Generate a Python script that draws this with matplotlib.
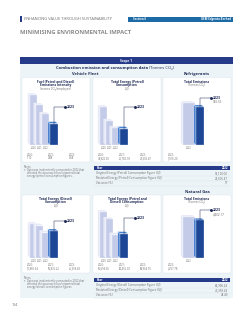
import matplotlib
matplotlib.use("Agg")
import matplotlib.pyplot as plt
from matplotlib.patches import Rectangle, Polygon, FancyBboxPatch
import numpy as np

plt.rcParams['font.family'] = ['Open Sans', 'DejaVu Sans']

W, H = 251, 320

# ---- data ----
FLEET_YEARS = ["2020", "2021", "2022", "2023"]
EMISSION_INTENSITY = [1.10, 0.88, 0.68, 0.47]
PETROL_GJ = [34820.60, 26780.78, 22606.47, 22436.99]
DIESEL_GJ = [51886.64, 50836.22, 46358.48, 47407.06]
PETROL_DIESEL_GJ = [85694.65, 80456.00, 68964.95, 69844.05]
REFRIG_YEARS = ["2022", "2023"]
REFRIG_CO2 = [1016.20, 920.55]
GAS_YEARS = ["2022", "2023"]
GAS_CO2 = [4767.78, 4402.17]

PETROL_ROWS = ["Original Energy (Petrol) Consumption Figure (GJ)",
               "Restated Energy (Petrol) Consumption Figure (GJ)",
               "Variance (%)"]
PETROL_VALS = ["52,120.00", "22,606.47", "57"]
DIESEL_ROWS = ["Original Energy (Diesel) Consumption Figure (GJ)",
               "Restated Energy (Diesel) Consumption Figure (GJ)",
               "Variance (%)"]
DIESEL_VALS = ["64,996.24", "46,358.48", "28.40"]

NAVY = "#263a8a"
TXT = "#1f2a55"
GREY = "#6d6d6d"
LIGHT = "#c4cbe9"
LIGHT_SIDE = "#e6e9f7"
DARK = "#1d4796"
DARK_SIDE = "#4a82d0"
PANEL = "#edf4f7"

fig = plt.figure(figsize=(W / 100, H / 100), dpi=100)
page = fig.add_axes([0, 0, 1, 1])
page.set_xlim(0, W)
page.set_ylim(H, 0)
page.axis('off')


def px_ax(x0, y0, x1, y1):
    return fig.add_axes([x0 / W, 1 - y1 / H, (x1 - x0) / W, (y1 - y0) / H])


def fmt(v):
    return f"{v:,.2f}"


def bar_chart(box, years, values, ylim, label_frac, light_w=7, dark_w=8, step=6, x0=4):
    ax = px_ax(*box)
    ax.patch.set_alpha(0)
    n = len(values)
    lefts = [x0 + i * step for i in range(n - 1)]
    widths = [light_w] * (n - 1)
    lefts.append(lefts[-1] + light_w + 1)
    widths.append(dark_w)
    base = ylim[0]
    box_h = box[3] - box[1]
    per_px = (ylim[1] - ylim[0]) / box_h
    dx, dyd = 2.2, 2.0 * per_px
    colors = [LIGHT] * (n - 1) + [DARK]
    sides = [LIGHT_SIDE] * (n - 1) + [DARK_SIDE]
    bars = ax.bar(lefts, np.array(values) - base, width=widths, bottom=base, align='edge',
                  color=colors, edgecolor='white', linewidth=0.2)
    for i, p in enumerate(bars):
        l, w, v = lefts[i], widths[i], values[i]
        p.set_zorder(3 * i + 3)
        side = Polygon([(l - dx, base + dyd), (l, base), (l, v), (l - dx, v + dyd)],
                       closed=True, fc=sides[i], ec='white', lw=0.2, zorder=3 * i + 2)
        top = Polygon([(l - dx, v + dyd), (l, v), (l + w, v), (l + w - dx, v + dyd)],
                      closed=True, fc=sides[i], ec='white', lw=0.2, zorder=3 * i + 2)
        ax.add_patch(side)
        ax.add_patch(top)
    xc = lefts[-1] + dark_w / 2
    ly = base + label_frac * (ylim[1] - base)
    ax.plot([xc, xc, xc + 11], [values[-1], ly, ly], color=TXT, lw=0.35,
            clip_on=False, zorder=30)
    ax.plot([xc + 11], [ly], 'o', color=TXT, ms=1.1, clip_on=False, zorder=31)
    ax.text(xc + 13, ly, years[-1], fontsize=2.5, fontweight='bold', color=TXT,
            va='center', ha='left', clip_on=False)
    ax.annotate(fmt(values[-1]), (xc + 13, ly), xytext=(0, -2.9), textcoords='offset points',
                fontsize=2.2, color=GREY, va='center', ha='left')
    centers = [lefts[i] + widths[i] / 2 for i in range(n - 1)]
    ax.set_xticks(centers)
    ax.set_xticklabels(years[:-1], fontsize=1.8, color=GREY)
    ax.tick_params(axis='x', length=0, pad=0.8)
    ax.set_yticks([])
    ax.set_xlim(0, box[2] - box[0])
    ax.set_ylim(*ylim)
    for s in ax.spines.values():
        s.set_visible(False)
    return ax


def card(x0, y0, x1, y1):
    page.add_patch(FancyBboxPatch((x0, y0), x1 - x0, y1 - y0,
                                  boxstyle="round,pad=0,rounding_size=1.2",
                                  fc='white', ec='#d9e4ea', lw=0.3, zorder=1))


def card_title(xc, y, lines, unit):
    for k, t in enumerate(lines):
        page.text(xc, y + k * 3.3, t, fontsize=2.3, fontweight='bold', color=TXT,
                  ha='center', va='center')
    page.text(xc, y + len(lines) * 3.3, unit, fontsize=2.1, color=GREY,
              ha='center', va='center')


def value_list(x0, y, years, values, offsets=(5, 26, 47)):
    for k in range(len(years)):
        page.text(x0 + offsets[k], y, years[k] + ":", fontsize=1.9, color=GREY,
                  ha='left', va='center')
        page.text(x0 + offsets[k], y + 3.2, fmt(values[k]), fontsize=1.9, color=GREY,
                  ha='left', va='center')


def data_table(x0, y0, x1, rows, vals, year="2022"):
    page.add_patch(Rectangle((x0, y0), x1 - x0, 4.5, fc=NAVY, ec='none', zorder=2))
    page.text(x0 + 2, y0 + 2.3, "Year", fontsize=2.1, fontweight='bold', color='white',
              va='center', zorder=3)
    page.text(x1 - 2, y0 + 2.3, year, fontsize=2.1, fontweight='bold', color='white',
              va='center', ha='right', zorder=3)
    for k, (r, v) in enumerate(zip(rows, vals)):
        yy = y0 + 7.5 + k * 5
        page.text(x0 + 2, yy, r, fontsize=2.1, color=GREY, va='center')
        page.text(x1 - 2, yy, v, fontsize=2.1, color=GREY, va='center', ha='right')
        page.plot([x0, x1], [yy + 2.5, yy + 2.5], color='#d3dde4', lw=0.25)


def notes(x0, y0, topic):
    page.text(x0, y0, "Notes:", fontsize=1.9, color=GREY, va='center')
    lines = ["Data was inadvertently computed in 2022 that",
             "affected the accuracy of our reported total",
             f"energy ({topic}) consumption figures."]
    page.text(x0, y0 + 3, "*", fontsize=1.9, color=GREY, va='center')
    for k, t in enumerate(lines):
        page.text(x0 + 3, y0 + 3 + k * 2.8, t, fontsize=1.9, color=GREY, va='center')


# ---- page header ----
page.add_patch(Rectangle((20.5, 16), 1.2, 6, fc=NAVY, ec='none'))
page.text(24, 19.2, "ENHANCING VALUE THROUGH SUSTAINABILITY", fontsize=2.9, color=GREY,
          va='center')
page.add_patch(Rectangle((128, 16.5), 105, 5.5, fc="#1c6aa6", ec='none'))
page.text(133, 19.3, "Section 6", fontsize=2.1, fontweight='bold', color='white', va='center')
page.text(231, 19.3, "UEM Edgenta Berhad", fontsize=2.1, fontweight='bold', color='white',
          va='center', ha='right')
page.text(20.5, 33, "MINIMISING ENVIRONMENTAL IMPACT", fontsize=4.2, fontweight='bold',
          color="#8a8a8a", va='center')

# ---- scope panel ----
page.add_patch(Rectangle((20, 57), 213, 7, fc=NAVY, ec='none'))
page.text(126.5, 60.6, "Scope 1", fontsize=2.3, fontweight='bold', color='white',
          ha='center', va='center')
page.add_patch(Rectangle((20, 64), 213, 234, fc=PANEL, ec='none', zorder=0))
page.text(149, 68.5, "Combustion emission and consumption data ", fontsize=3.0,
          fontweight='bold', color=TXT, ha='right', va='center')
page.text(149, 68.5, "(Tonnes CO₂)", fontsize=3.0, color=TXT, ha='left', va='center')
page.text(85, 74, "Vehicle Fleet", fontsize=3.0, fontweight='bold', color=TXT,
          ha='center', va='center')
page.text(197, 74, "Refrigerants", fontsize=3.0, fontweight='bold', color=TXT,
          ha='center', va='center')
page.text(197, 192, "Natural Gas", fontsize=3.0, fontweight='bold', color=TXT,
          ha='center', va='center')

# row 1 cards
card(22, 77.5, 90, 162)
card(93, 77.5, 161, 162)
card(163, 77.5, 231, 162)
card_title(56, 82, ["Fuel (Petrol and Diesel)", "Emissions Intensity"], "(tonnes CO₂/employee)")
card_title(127, 82, ["Total Energy (Petrol)", "Consumption"], "(GJ)")
card_title(197, 82, ["Total Emissions"], "(Tonnes CO₂)")

bar_chart((26, 88, 64, 145), FLEET_YEARS, EMISSION_INTENSITY, (0, 1.254), 0.667)
bar_chart((96, 88, 134, 145), FLEET_YEARS, PETROL_GJ, (13000, 45730), 0.667)
bar_chart((178, 88, 215, 145), REFRIG_YEARS, REFRIG_CO2, (0, 1379), 0.825,
          light_w=12, dark_w=8, x0=5)

value_list(22, 155, FLEET_YEARS[:3], EMISSION_INTENSITY[:3])
value_list(93, 155, FLEET_YEARS[:3], PETROL_GJ[:3])
value_list(163, 155, REFRIG_YEARS[:1], REFRIG_CO2[:1])

notes(24, 167, "petrol")
data_table(94, 165.5, 230, PETROL_ROWS, PETROL_VALS)

# row 2 cards
card(22, 195, 90, 273)
card(93, 195, 161, 273)
card(163, 195, 231, 273)
card_title(56, 199, ["Total Energy (Diesel)", "Consumption"], "(GJ)")
card_title(127, 199, ["Total Energy (Petrol and", "Diesel) Consumption"], "(GJ)")
card_title(197, 199, ["Total Emissions"], "(Tonnes CO₂)")

bar_chart((26, 205, 64, 258), FLEET_YEARS, DIESEL_GJ, (30000, 64116), 0.70)
bar_chart((96, 205, 134, 258), FLEET_YEARS, PETROL_DIESEL_GJ, (52000, 90821), 0.755)
bar_chart((178, 205, 215, 258), GAS_YEARS, GAS_CO2, (0, 6162), 0.906,
          light_w=12, dark_w=8, x0=5)

value_list(22, 265, FLEET_YEARS[:3], DIESEL_GJ[:3])
value_list(93, 265, FLEET_YEARS[:3], PETROL_DIESEL_GJ[:3])
value_list(163, 265, GAS_YEARS[:1], GAS_CO2[:1])

notes(24, 278, "diesel")
data_table(94, 277.5, 230, DIESEL_ROWS, DIESEL_VALS)

page.text(12, 305, "104", fontsize=2.6, color=GREY, va='center')

fig.savefig("out.png", dpi=100)
